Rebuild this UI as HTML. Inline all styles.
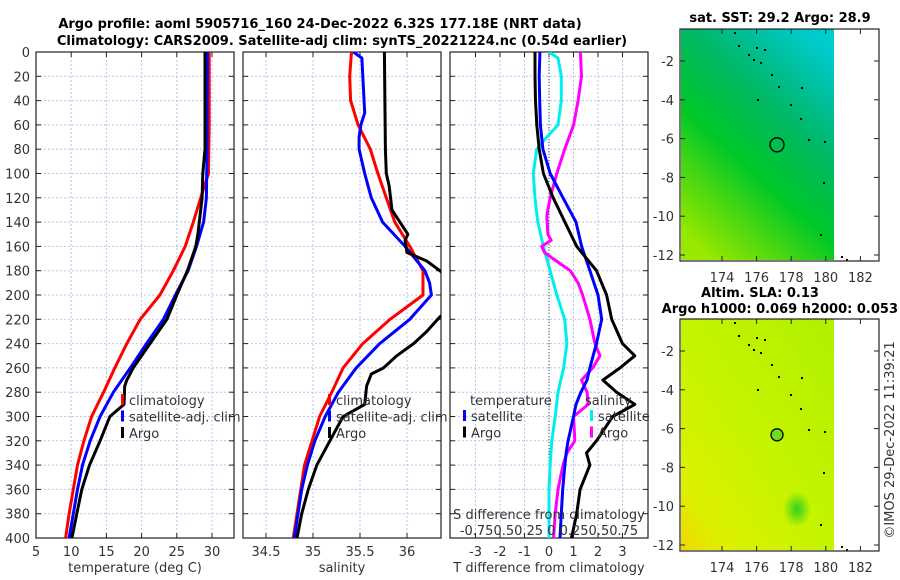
<!DOCTYPE html>
<html><head><meta charset="utf-8"><style>
body{margin:0;background:#fff}
svg{display:block;font-family:"DejaVu Sans","Liberation Sans",sans-serif}
.t{font-size:13px;fill:#333}
.b{font-size:13px;font-weight:bold;fill:#000}
</style></head><body>
<svg id="c" width="900" height="580" viewBox="0 0 900 580">
<defs>
<clipPath id="cp1"><rect x="36" y="52" width="198" height="486"/></clipPath>
<clipPath id="cp2"><rect x="243" y="52" width="198" height="486"/></clipPath>
<clipPath id="cp3"><rect x="450" y="52" width="198" height="486"/></clipPath>
<linearGradient id="sstg" x1="0.8" y1="0" x2="0.2" y2="1">
<stop offset="0" stop-color="#00cccc"/><stop offset="0.15" stop-color="#00c0a0"/><stop offset="0.35" stop-color="#00b860"/><stop offset="0.6" stop-color="#00c828"/><stop offset="0.8" stop-color="#50d810"/><stop offset="1" stop-color="#98e800"/></linearGradient>
<linearGradient id="slag" x1="1" y1="0" x2="0" y2="1">
<stop offset="0" stop-color="#b0f000"/><stop offset="0.5" stop-color="#c4f400"/><stop offset="0.85" stop-color="#dcf000"/><stop offset="1" stop-color="#f0d800"/></linearGradient>
<radialGradient id="blob"><stop offset="0" stop-color="#30d020"/><stop offset="1" stop-color="#30d020" stop-opacity="0"/></radialGradient>
</defs>
<text class="b" x="320" y="28" text-anchor="middle">Argo profile: aoml 5905716_160 24-Dec-2022 6.32S 177.18E (NRT data)</text>
<text class="b" x="342" y="45" text-anchor="middle">Climatology: CARS2009. Satellite-adj clim: synTS_20221224.nc (0.54d earlier)</text>
<g id="g"></g>
</svg>
<script>
// ---- data ----
const depths = [0,20,40,60,80,100,120,140,160,180,200,220,240,260,280,300,320,340,360,380,400];
const tClim = [29.6,29.6,29.6,29.6,29.55,29.5,28.4,27.35,26.2,24.5,22.6,19.8,17.9,16.2,14.6,12.9,11.8,10.9,10.3,9.7,9.2];
const tSat  = [29.35,29.35,29.3,29.3,29.3,29.25,29.2,28.8,27.8,26.6,24.8,23.1,20.7,18.4,16.0,14.1,12.7,11.6,10.9,10.3,9.7];
const argoDepths = [0,40,80,100,120,140,150,160,180,200,220,240,260,270,275,290,300,320,340,360,380,400];
const tArgo = [29.0,29.0,29.0,28.7,28.6,28.2,28.0,27.7,26.5,25.0,23.6,21.2,18.8,17.9,17.6,17.5,15.5,14.1,12.6,11.5,10.8,10.1];
const sClim = [35.41,35.39,35.40,35.48,35.61,35.69,35.78,35.87,36.03,36.17,36.17,35.82,35.53,35.32,35.2,35.07,34.99,34.91,34.87,34.83,34.79];
const sSatDepths = [0,5,20,50,60,70,80,100,120,140,160,180,190,200,220,240,260,280,300,320,340,360,380,400];
const sSat = [35.43,35.52,35.53,35.55,35.51,35.49,35.49,35.55,35.62,35.74,35.98,36.19,36.24,36.26,36.03,35.71,35.46,35.27,35.13,35.02,34.94,34.88,34.84,34.80];
const sArgoDepths = [0,80,100,110,130,150,155,165,172,180,190,200,210,218,230,240,250,260,265,275,290,300,320,340,360,380,400];
const sArgo = [35.76,35.77,35.78,35.81,35.84,36.01,35.98,36.0,36.21,36.35,36.5,36.6,36.5,36.35,36.21,36.07,35.89,35.75,35.62,35.57,35.55,35.32,35.18,35.04,34.95,34.88,34.83];
const dDepths = [0,20,40,60,80,100,120,140,160,180,200,220,240,250,260,270,280,290,300,320,330,340,360,380,400];
const dTSat = [-0.37,-0.4,-0.38,-0.35,-0.25,0.05,0.57,1.1,1.33,1.67,2.0,2.15,1.94,1.8,1.67,1.55,1.3,1.1,1.0,0.78,0.7,0.65,0.56,0.5,0.45];
const dTArgo = [-0.57,-0.57,-0.55,-0.5,-0.4,-0.23,0.17,0.65,1.13,1.94,2.35,2.56,3.0,3.5,2.9,2.2,2.76,3.5,2.6,1.94,1.53,1.67,1.27,1.13,0.92];
const dSDepths = [0,5,20,40,60,70,80,100,120,140,160,180,200,220,240,260,280,300,320,340,360,380,400];
const dSSat = [0,0.08,0.11,0.11,0.08,-0.02,-0.11,-0.14,-0.125,-0.1,-0.05,0.01,0.07,0.14,0.16,0.13,0.08,0.055,0.025,0.01,0,0,0];
const dSArgoDepths = [0,20,40,60,80,100,120,135,150,155,160,165,170,180,190,200,220,240,250,260,270,280,290,300,320,330,340,360,380,400];
const dSArgo = [0.28,0.29,0.26,0.22,0.14,0.07,0.01,-0.02,-0.01,0.02,-0.065,-0.04,0.035,0.19,0.26,0.3,0.365,0.41,0.455,0.39,0.29,0.34,0.35,0.22,0.23,0.16,0.125,0.08,0.055,0.04];
const depthTicks = [0,20,40,60,80,100,120,140,160,180,200,220,240,260,280,300,320,340,360,380,400];
const tTicks = [5,10,15,20,25,30];
const sTicks = [34.5,35,35.5,36];
const dTicks = [-3,-2,-1,0,1,2,3];
const latTicks = [-2,-4,-6,-8,-10,-12];
const lonTicks = [174,176,178,180,182];

// ---- scales ----
const Y = d => 52 + d*1.215;
const XT = v => 36 + (v-5)*7.04;
const XS = v => 266 + (v-34.5)*94;
const XD = v => 549 + v*24.5;
const XDS = v => 549 + v*112;
const NS='http://www.w3.org/2000/svg';
const G=document.getElementById('g');
function mk(tag,attrs,parent){const e=document.createElementNS(NS,tag);for(const k in attrs)e.setAttribute(k,attrs[k]);(parent||G).appendChild(e);return e;}
function txt(x,y,s,cls,anchor,parent){const e=mk('text',{x:x,y:y,class:cls||'t','text-anchor':anchor||'middle'},parent);e.textContent=s;return e;}

function panel(x0,name,xt,xf,labels){
  const grp=mk('g',{});
  
  
  depthTicks.forEach(d=>{ if(d>0&&d<400){const l=mk('line',{x1:x0,x2:x0+198,y1:Y(d),y2:Y(d),stroke:'#b8c4e8','stroke-dasharray':'2,2','stroke-width':1},grp);
    }
    mk('line',{x1:x0,x2:x0+5,y1:Y(d),y2:Y(d),stroke:'#222'},grp);mk('line',{x1:x0+193,x2:x0+198,y1:Y(d),y2:Y(d),stroke:'#222'},grp);});
  xt.forEach(v=>{const x=xf(v);mk('line',{x1:x,x2:x,y1:52,y2:538,stroke:'#b8c4e8','stroke-dasharray':'2,2'},grp);
    mk('line',{x1:x,x2:x,y1:533,y2:538,stroke:'#222'},grp);mk('line',{x1:x,x2:x,y1:52,y2:57,stroke:'#222'},grp);
    if(labels){const t=txt(x,556,String(v),'t','middle',grp);}});
  mk('rect',{x:x0,y:52,width:198,height:486,fill:'none',stroke:'#222','stroke-width':1.2},grp);
  return grp;
}
function line(xs,ys,xf,color,clip,name,w){
  const pts=xs.map((v,i)=>xf(v).toFixed(1)+','+Y(ys[i]).toFixed(1)).join(' ');
  const p=mk('polyline',{points:pts,fill:'none',stroke:color,'stroke-width':w||3,'stroke-linejoin':'round','clip-path':'url(#'+clip+')'});
  
  
}
depthTicks.forEach(d=>{const t=txt(30,Y(d)+5,String(d),'t','end');});

panel(36,'temperature-panel',tTicks,XT,true);
line(tClim,depths,XT,'#f00','cp1','temp-climatology-line');
line(tSat,depths,XT,'#00f','cp1','temp-satellite-line');
line(tArgo,argoDepths,XT,'#000','cp1','temp-argo-line');
panel(243,'salinity-panel',sTicks,XS,true);
line(sClim,depths,XS,'#f00','cp2','sal-climatology-line');
line(sSat,sSatDepths,XS,'#00f','cp2','sal-satellite-line');
line(sArgo,sArgoDepths,XS,'#000','cp2','sal-argo-line');
panel(450,'difference-panel',dTicks,XD,true);
mk('line',{x1:549,x2:549,y1:52,y2:538,stroke:'#444','stroke-dasharray':'1,2'});
line(dSSat,dSDepths,XDS,'#0ee','cp3','sal-sat-diff-line');
line(dSArgo,dSArgoDepths,XDS,'#f0f','cp3','sal-argo-diff-line');
line(dTSat,dDepths,XD,'#00f','cp3','temp-sat-diff-line');
line(dTArgo,dDepths,XD,'#000','cp3','temp-argo-diff-line');

let a;
a=txt(135,572,'temperature (deg C)');
a=txt(342,572,'salinity');
a=txt(549,572,'T difference from climatology');
a=txt(549,519,'S difference from climatology');
a=txt(549,535,'-0.750.50.25 0 0.250.50.75');

function legend(x,y,items,name){
  const g=mk('g',{});
  items.forEach((it,i)=>{const yy=y+i*16.5;
    if(it[1])mk('rect',{x:x,y:yy-11,width:3,height:11,fill:it[1]},g);
    txt(x+(it[1]?8:0),yy,it[0],'t','start',g);});
}
legend(121,405,[['climatology','#f00'],['satellite-adj. clim','#00f'],['Argo','#000']],'temperature-legend');
legend(328,405,[['climatology','#f00'],['satellite-adj. clim','#00f'],['Argo','#000']],'salinity-legend');
legend(470,405,[['temperature',null]],'tdiff-legend-title');
legend(463,421,[['satellite','#00f'],['Argo','#000']],'tdiff-legend');
legend(585,405,[['salinity',null]],'sdiff-legend-title');
legend(590,421,[['satellite','#0ee'],['Argo','#f0f']],'sdiff-legend');

// ---- maps ----
const LY1 = l => 61 + (-2-l)*19.4;
const LY2 = l => 351 + (-2-l)*19.4;
const LX = l => 722 + (l-174)*17.3;
function map(top,ly,fill,name,circFill){
  const g=mk('g',{});
  mk('rect',{x:681,y:top,width:153,height:231,fill:fill},g);
  if(circFill){mk('ellipse',{cx:797,cy:top+190,rx:14,ry:18,fill:'url(#blob)'},g);}
  [[734,top+3],[738,top+16],[748,top+25],[753,top+30],[756,top+18],[764,top+20],[760,top+33],[771,top+45],[757,top+70],[778,top+57],[790,top+75],[801,top+58],[800,top+89],[808,top+110],[824,top+112],[823,top+153],[820,top+205],[841,top+227],[846,top+230]].forEach(p=>mk('rect',{x:p[0],y:p[1],width:2,height:2,fill:'#000'},g));
  mk('rect',{x:680,y:top,width:199,height:232,fill:'none',stroke:'#222','stroke-width':1.2},g);
  latTicks.forEach(l=>{const y=ly(l);mk('line',{x1:680,x2:685,y1:y,y2:y,stroke:'#222'},g);mk('line',{x1:874,x2:879,y1:y,y2:y,stroke:'#222'},g);
    const t=txt(674,y+5,String(l),'t','end',g);});
  lonTicks.forEach(l=>{const x=LX(l);mk('line',{x1:x,x2:x,y1:top+227,y2:top+232,stroke:'#222'},g);mk('line',{x1:x,x2:x,y1:top,y2:top+5,stroke:'#222'},g);
    const t=txt(x,top+253,String(l),'t','middle',g);});
  const c=mk('circle',{cx:LX(177.18),cy:ly(-6.32),r:circFill?6:7,fill:circFill||'none',stroke:'#000','stroke-width':1.3},g);
  
}
map(29,LY1,'url(#sstg)','sst-map',null);
map(319,LY2,'url(#slag)','sla-map','#70dc20');
a=txt(780,22,'sat. SST: 29.2 Argo: 28.9','b','middle');
a=txt(760,297,'Altim. SLA: 0.13','b','middle');
a=txt(898,313,'Argo h1000: 0.069 h2000: 0.053','b','end');
a=txt(0,0,'©IMOS 29-Dec-2022 11:39:21','t','middle');a.setAttribute('transform','translate(894,440) rotate(-90)');


</script>
</body></html>
